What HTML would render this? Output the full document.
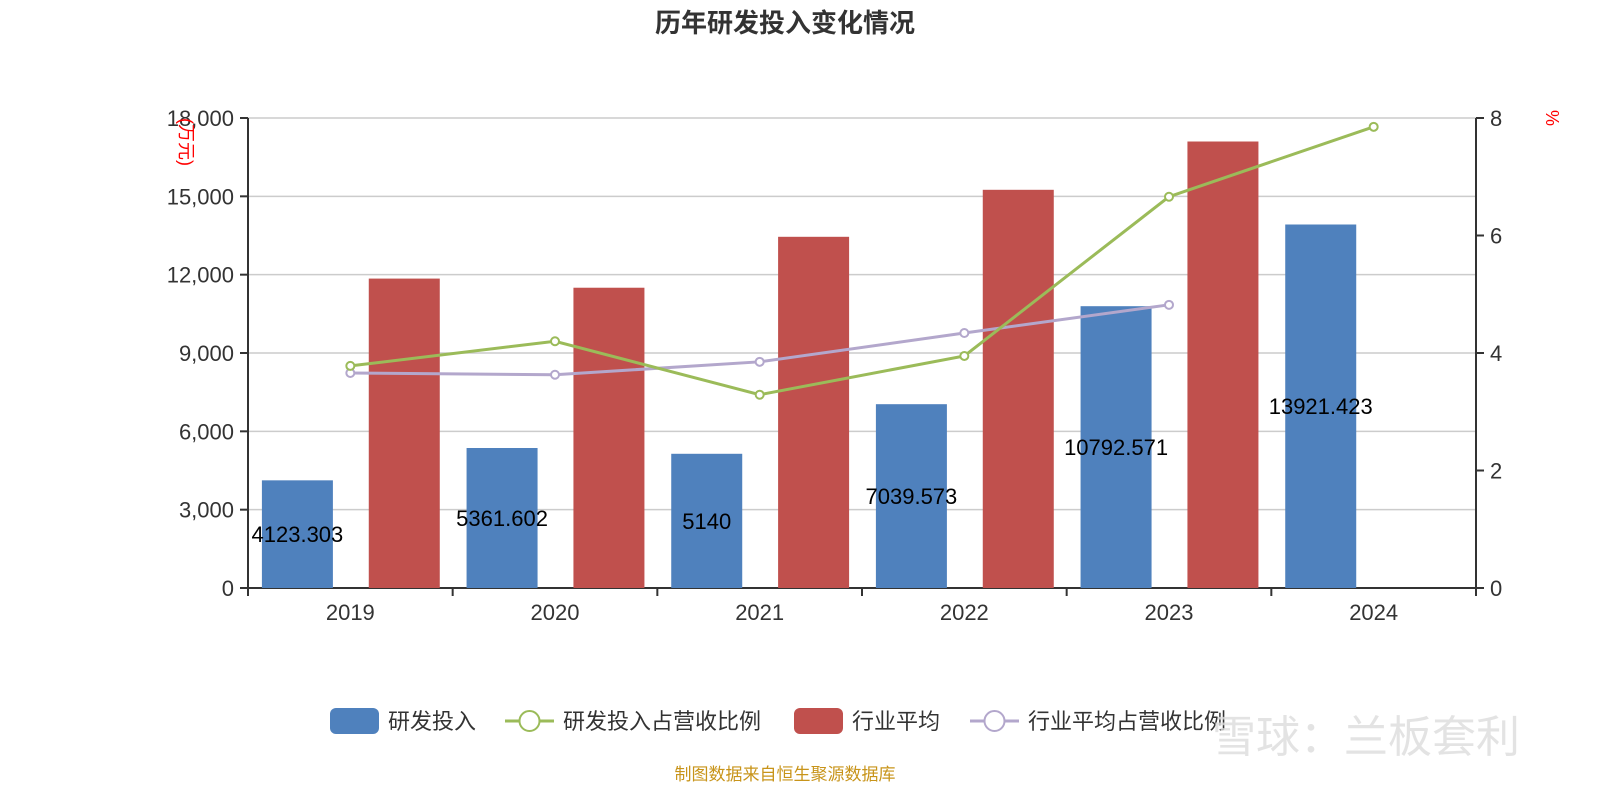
<!DOCTYPE html>
<html><head><meta charset="utf-8"><style>
body{margin:0;background:#fff;width:1600px;height:800px;overflow:hidden;font-family:"Liberation Sans","Noto Sans CJK SC",sans-serif}
</style></head><body>
<svg id="c" width="1600" height="800" xmlns="http://www.w3.org/2000/svg" font-family="Liberation Sans, Noto Sans CJK SC, sans-serif"></svg>
<script>
const categories=["2019","2020","2021","2022","2023","2024"];
const rdValues=[4123.303,5361.602,5140,7039.573,10792.571,13921.423];
const rdLabels=["4123.303","5361.602","5140","7039.573","10792.571","13921.423"];
const industryValues=[11850,11500,13450,15250,17100,null];
const rdRatio=[3.78,4.2,3.29,3.95,6.66,7.85];
const industryRatio=[3.66,3.63,3.85,4.34,4.82];
const leftTicks=[0,3000,6000,9000,12000,15000,18000];
const rightTicks=[0,2,4,6,8];

const svg=document.getElementById('c');const NS='http://www.w3.org/2000/svg';
function mk(t,a,p,txt){const e=document.createElementNS(NS,t);for(const k in a)e.setAttribute(k,a[k]);if(txt!=null)e.textContent=txt;(p||svg).appendChild(e);return e;}
const X0=248,X1=1476,Y0=588,Y1=118;
const band=(X1-X0)/categories.length;
const xc=i=>X0+band*(i+0.5);
const yL=v=>Y0-(v/18000)*(Y0-Y1);
const yR=v=>Y0-(v/8)*(Y0-Y1);

let t=mk('text',{x:785,y:32,'text-anchor':'middle','font-size':26,'font-weight':'bold',fill:'#333'},null,'历年研发投入变化情况');


leftTicks.forEach(v=>{
  const g=mk('line',{x1:X0,x2:X1,y1:yL(v),y2:yL(v),stroke:v===0?'#333':'#ccc','stroke-width':v===0?2:1.5});
  
  mk('line',{x1:X0-8,x2:X0,y1:yL(v),y2:yL(v),stroke:'#333','stroke-width':2});
  const l=mk('text',{x:X0-14,y:yL(v)+8,'text-anchor':'end','font-size':22,fill:'#333'},null,v.toLocaleString('en-US'));
  
});
rightTicks.forEach(v=>{
  mk('line',{x1:X1,x2:X1+8,y1:yR(v),y2:yR(v),stroke:'#333','stroke-width':2});
  const l=mk('text',{x:X1+14,y:yR(v)+8,'font-size':22,fill:'#333'},null,String(v));
  
});
mk('line',{x1:X0,x2:X0,y1:Y1,y2:Y0,stroke:'#333','stroke-width':2});
mk('line',{x1:X1,x2:X1,y1:Y1,y2:Y0,stroke:'#333','stroke-width':2});
for(let i=0;i<=categories.length;i++)mk('line',{x1:X0+band*i,x2:X0+band*i,y1:Y0,y2:Y0+8,stroke:'#333','stroke-width':2});
categories.forEach((c,i)=>{
  const l=mk('text',{x:xc(i),y:Y0+32,'text-anchor':'middle','font-size':22,fill:'#333'},null,c);
  
});
let a=mk('text',{transform:'translate(180,142) rotate(90)','text-anchor':'middle','font-size':18,fill:'red'},null,'(万元)');

a=mk('text',{transform:'translate(1546,118) rotate(90)','text-anchor':'middle','font-size':18,fill:'red'},null,'%');


const bw=71;
rdValues.forEach((v,i)=>{
  const x=xc(i)-band*0.2-bw/2+(-12);
  const r=mk('rect',{x:x,y:yL(v),width:bw,height:Y0-yL(v),fill:'#4f81bd'});
  
});
industryValues.forEach((v,i)=>{
  if(v==null)return;
  const x=xc(i)+12+band*0.2-bw/2-10;
  const r=mk('rect',{x:x+11,y:yL(v),width:bw,height:Y0-yL(v),fill:'#c0504d'});
  
});
function line(vals,color,name){
  const p=mk('polyline',{points:vals.map((v,i)=>xc(i)+','+yR(v)).join(' '),fill:'none',stroke:color,'stroke-width':3});
  
  vals.forEach((v,i)=>{const c=mk('circle',{cx:xc(i),cy:yR(v),r:4,fill:'#fff',stroke:color,'stroke-width':2});
    });
}
line(industryRatio,'#b3a7cc','industry-ratio');
line(rdRatio,'#9bbb59','rd-ratio');
rdValues.forEach((v,i)=>{
  const cx=xc(i)-band*0.2-12;
  const l=mk('text',{x:cx,y:(yL(v)+Y0)/2+8,'text-anchor':'middle','font-size':22,fill:'#000'},null,rdLabels[i]);
  
});

// legend
const lg=mk('g',{});
function legendItem(x,type,color,label){
  const g=mk('g',{},lg);
  if(type==='bar')mk('rect',{x:x,y:708,width:49,height:26,rx:6,fill:color},g);
  else{mk('line',{x1:x,x2:x+49,y1:721,y2:721,stroke:color,'stroke-width':3},g);mk('circle',{cx:x+24.5,cy:721,r:10,fill:'#fff',stroke:color,'stroke-width':2},g);}
  mk('text',{x:x+58,y:729,'font-size':22,fill:'#333'},g,label);
}
legendItem(330,'bar','#4f81bd','研发投入');
legendItem(505,'line','#9bbb59','研发投入占营收比例');
legendItem(794,'bar','#c0504d','行业平均');
legendItem(970,'line','#b3a7cc','行业平均占营收比例');
let w=mk('text',{x:1520,y:752,'text-anchor':'end','font-size':44,fill:'#ddd',opacity:0.8},null,'雪球：兰板套利');

let s=mk('text',{x:785,y:780,'text-anchor':'middle','font-size':17,fill:'#c8941a'},null,'制图数据来自恒生聚源数据库');

</script>
</body></html>
